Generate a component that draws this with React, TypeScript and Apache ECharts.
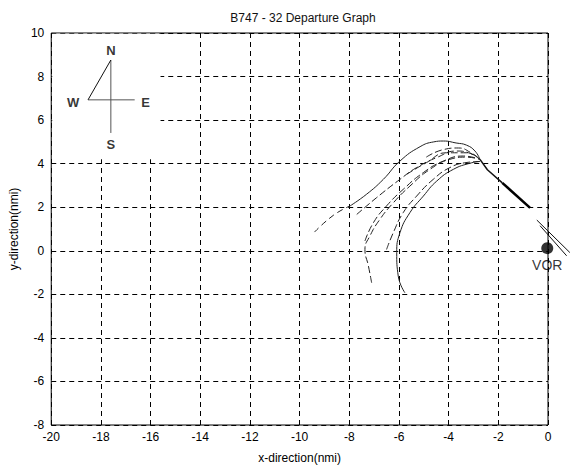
import React, { useEffect, useRef } from "react";
import * as echarts from "echarts";

const titleText = "B747 - 32 Departure Graph";
const xTicks = { min: -20, max: 0, interval: 2 };
const yTicks = { min: -8, max: 10, interval: 2 };

// trajectories (x, y in nmi)
const trajAleft = [[-9.4, 0.86], [-8.64, 1.63], [-7.97, 2.06]];
const trajA = [[-7.97, 2.06], [-7.3, 2.6], [-6.63, 3.28], [-5.96, 4.12], [-5.15, 4.78], [-4.6, 5.0], [-4.21, 5.04], [-3.7, 4.95], [-3.28, 4.85], [-2.94, 4.58], [-2.74, 4.2]];
const trajB = [[-7.7, 1.67], [-6.9, 2.44], [-5.96, 3.28], [-5.29, 3.82], [-4.48, 4.28], [-3.68, 4.58], [-3.2, 4.5], [-2.74, 4.2]];
const trajC = [[-7.1, -1.47], [-7.23, -0.7], [-7.37, 0.06], [-7.17, 0.68], [-6.77, 1.44], [-6.23, 2.2], [-5.56, 2.97], [-4.75, 3.74], [-3.95, 4.2], [-3.3, 4.3], [-2.74, 4.2]];
const trajD = [[-5.76, -1.93], [-6.03, -1.16], [-6.09, -0.09], [-5.96, 0.83], [-5.56, 1.75], [-5.02, 2.51], [-4.48, 3.2], [-3.81, 3.74], [-3.14, 4.02], [-2.74, 4.1]];
const trajE = [[-6.5, 0.06], [-6.23, 0.83], [-5.83, 1.75], [-5.29, 2.51], [-4.62, 3.28], [-3.95, 3.82], [-3.3, 4.05], [-2.74, 4.1]];
const trajF = [[-7.37, 0.45], [-7.03, 1.29], [-6.5, 2.06], [-5.83, 2.82], [-5.02, 3.59], [-4.21, 4.12], [-3.41, 4.35], [-2.74, 4.2]];
const trajH = [[-5.69, 3.51], [-4.89, 4.05], [-4.08, 4.5], [-3.28, 4.5], [-2.74, 4.2]];
const trajI = [[-4.9, 4.3], [-4.2, 4.65], [-3.6, 4.72], [-3.1, 4.5], [-2.74, 4.2]];
const commonTail = [[-2.74, 4.2], [-2.44, 3.72], [-1.84, 3.12]];
const commonTailThick = [[-1.84, 3.12], [-0.72, 1.97]];

// runway and VOR
const runway1 = [[-0.45, 1.41], [0.88, -0.08]];
const runway2 = [[-0.32, 1.15], [0.75, -0.23]];
const vor = [[-0.03, 0.12]];
const vorLabel = "VOR";

// compass rose
const compassV = [[-17.6, 8.76], [-17.6, 5.41]];
const compassH = [[-18.52, 6.93], [-16.64, 6.93]];
const compassD = [[-18.52, 6.93], [-17.6, 8.76]];
const compassLabels = [
  { name: "N", value: [-17.6, 9.2] },
  { name: "W", value: [-19.12, 6.8] },
  { name: "E", value: [-16.2, 6.8] },
  { name: "S", value: [-17.6, 4.86] },
];
const compassBlank = { x0: -19.96, x1: -15.6, y0: 4.2, y1: 9.96 };

const FONT = "Liberation Sans, Arial, sans-serif";

export default function App() {
  const ref = useRef<HTMLDivElement>(null);
  useEffect(() => {
    if (!ref.current) return;
    const chart = echarts.init(ref.current, undefined, { renderer: "svg" });
    const lineBase = (data: number[][], type: any, width = 1, color = "#222") => ({
      type: "line",
      data,
      showSymbol: false,
      symbol: "none",
      smooth: true,
      clip: false,
      silent: true,
      lineStyle: { color, width, type },
      z: 3,
    });
    chart.setOption({
      animation: false,
      backgroundColor: "#fff",
      title: {
        text: titleText,
        left: 298,
        top: 7,
        textAlign: "center",
        textStyle: { fontFamily: FONT, fontSize: 12, fontWeight: "normal", color: "#111" },
      },
      grid: {
        left: 48,
        right: 26,
        top: 33,
        bottom: 45,
        show: true,
        borderColor: "#000",
        borderWidth: 1,
        backgroundColor: "transparent",
      },
      xAxis: {
        type: "value",
        min: xTicks.min,
        max: xTicks.max,
        interval: xTicks.interval,
        name: "x-direction(nmi)",
        nameLocation: "middle",
        nameGap: 27,
        nameTextStyle: { fontFamily: FONT, fontSize: 12, color: "#000" },
        axisLine: { show: false },
        axisTick: { show: false },
        axisLabel: { fontFamily: FONT, fontSize: 12, color: "#000", margin: 6 },
        splitLine: { show: true, lineStyle: { color: "#000", width: 1, type: [5, 4] } },
      },
      yAxis: {
        type: "value",
        min: yTicks.min,
        max: yTicks.max,
        interval: yTicks.interval,
        name: "y-direction(nmi)",
        nameLocation: "middle",
        nameGap: 25,
        nameTextStyle: { fontFamily: FONT, fontSize: 12, color: "#000" },
        axisLine: { show: false },
        axisTick: { show: false },
        axisLabel: { fontFamily: FONT, fontSize: 12, color: "#000", margin: 7 },
        splitLine: { show: true, lineStyle: { color: "#000", width: 1, type: [5, 4] } },
      },
      series: [
        {
          type: "line",
          data: [],
          silent: true,
          z: 2,
          markArea: {
            silent: true,
            itemStyle: { color: "#fff", opacity: 1 },
            data: [[
              { xAxis: compassBlank.x0, yAxis: compassBlank.y1 },
              { xAxis: compassBlank.x1, yAxis: compassBlank.y0 },
            ]],
          },
        },
        { ...lineBase(compassV, "solid", 1, "#555"), smooth: false, z: 4 },
        { ...lineBase(compassH, "solid", 1, "#555"), smooth: false, z: 4 },
        { ...lineBase(compassD, "solid", 1, "#111"), smooth: false, z: 4 },
        {
          type: "scatter",
          data: compassLabels,
          symbolSize: 0,
          silent: true,
          z: 5,
          label: {
            show: true,
            position: "inside",
            formatter: (p: any) => p.name,
            fontFamily: FONT,
            fontSize: 13,
            fontWeight: "bold",
            color: "#000",
          },
        },
        lineBase(trajAleft, [6, 4]),
        lineBase(trajA, "solid"),
        lineBase(trajB, [7, 3]),
        lineBase(trajC, [7, 3]),
        lineBase(trajD, "solid"),
        lineBase(trajE, [7, 3]),
        lineBase(trajF, [7, 3]),
        lineBase(trajH, [7, 3]),
        lineBase(trajI, [7, 3]),
        { ...lineBase(commonTail, "solid", 1.5, "#111"), smooth: false },
        { ...lineBase(commonTailThick, "solid", 2.5, "#000"), smooth: false },
        {
          type: "scatter",
          data: vor,
          symbol: "circle",
          symbolSize: 12,
          clip: false,
          silent: true,
          z: 6,
          itemStyle: { color: "#000" },
          label: {
            show: true,
            position: "bottom",
            distance: 4,
            formatter: vorLabel,
            fontFamily: FONT,
            fontSize: 14,
            color: "#000",
          },
        },
      ],
    });
    // runway lines extend past the axes box: place them via the chart's own scales
    const toPx = (p: number[]) => chart.convertToPixel({ gridIndex: 0 }, p) as number[];
    const runwayGraphic = [runway1, runway2].map((r) => {
      const a = toPx(r[0]);
      const b = toPx(r[1]);
      return {
        type: "line",
        silent: true,
        z: 10,
        shape: { x1: a[0], y1: a[1], x2: b[0], y2: b[1] },
        style: { stroke: "#111", lineWidth: 1 },
      };
    });
    chart.setOption({ graphic: runwayGraphic });
    return () => chart.dispose();
  }, []);
  return (
    <div
      ref={ref}
      style={{ position: "fixed", left: 0, top: 0, width: 574, height: 470, background: "#fff" }}
    />
  );
}
